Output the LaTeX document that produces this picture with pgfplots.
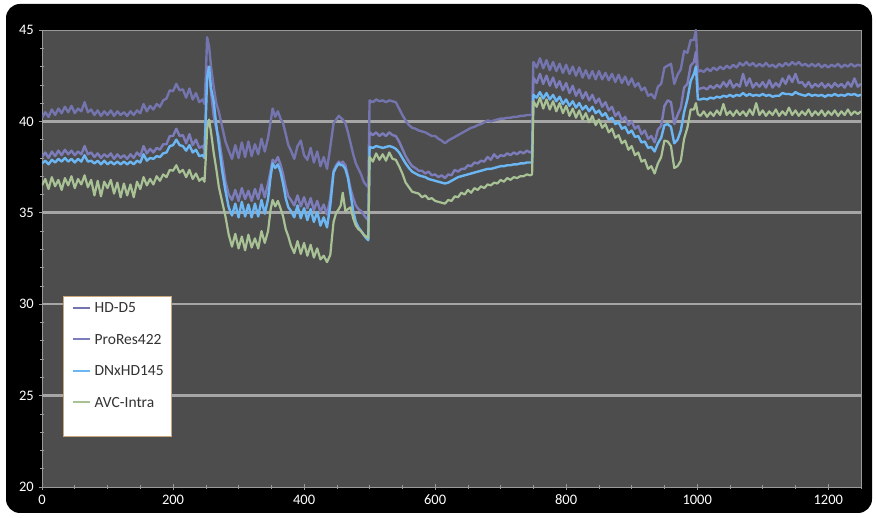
\documentclass[border=0pt]{standalone}
\usepackage{pgfplots}
\pgfplotsset{compat=1.18}
\usepackage{pgfplotstable}
\usepackage{fontspec}
\setmainfont{Carlito}
\definecolor{plotbg}{HTML}{4D4D4D}
\definecolor{gridc}{HTML}{A6A6A6}
\definecolor{axisc}{HTML}{9A9A9A}
\definecolor{cA}{HTML}{7474AE}
\definecolor{cB}{HTML}{7C7CBA}
\definecolor{cC}{HTML}{6CB6F4}
\definecolor{cD}{HTML}{A8C296}
\definecolor{legb}{HTML}{C9A67C}

\pgfplotstableread{
x A B C D
0 40.20 38.05 37.70 36.50
5 40.50 38.30 37.85 36.85
10 40.25 38.00 37.65 36.30
15 40.65 38.35 37.90 36.95
20 40.35 38.10 37.75 36.45
25 40.70 38.40 37.95 36.80
30 40.45 38.15 37.80 36.25
35 40.80 38.45 38.00 36.90
40 40.50 38.20 37.80 36.50
45 40.85 38.40 37.95 37.00
50 40.45 38.15 37.75 36.35
55 40.70 38.35 37.95 36.85
60 40.55 38.20 37.80 36.55
65 41.05 38.65 38.15 37.05
70 40.50 38.20 37.80 36.40
75 40.65 38.30 37.85 36.80
80 40.35 38.05 37.70 35.95
85 40.60 38.25 37.85 36.75
90 40.30 38.00 37.65 35.90
95 40.55 38.20 37.85 36.70
100 40.35 38.05 37.65 36.35
105 40.60 38.25 37.80 36.80
110 40.30 37.95 37.65 36.05
115 40.55 38.20 37.80 36.65
120 40.35 38.00 37.65 35.85
125 40.50 38.15 37.80 36.60
130 40.30 37.95 37.65 35.95
135 40.55 38.20 37.80 36.55
140 40.35 38.00 37.65 35.85
145 40.60 38.30 37.85 36.70
150 40.45 38.10 37.75 36.30
155 40.95 38.65 38.20 36.95
160 40.55 38.25 37.85 36.50
165 40.85 38.50 38.00 36.85
170 40.65 38.30 37.95 36.55
175 40.95 38.55 38.10 37.00
180 40.80 38.45 38.05 36.75
185 41.15 38.75 38.25 37.10
190 41.25 38.75 38.30 36.95
195 41.70 39.20 38.65 37.35
200 41.65 39.20 38.70 37.30
205 42.05 39.60 39.00 37.60
210 41.70 39.20 38.70 37.20
215 41.75 39.25 38.65 37.35
220 41.30 38.80 38.40 36.95
225 41.80 39.30 38.70 37.35
230 41.20 38.70 38.30 36.85
235 41.55 39.00 38.45 37.15
240 41.05 38.55 38.10 36.75
245 41.20 38.65 38.15 36.90
248 40.95 38.45 38.00 36.70
250 42.50 40.50 40.20 38.00
252 44.60 43.00 42.40 39.60
255 44.10 42.70 43.00 40.10
258 43.00 41.60 41.80 39.40
262 41.90 40.30 41.10 38.30
266 41.00 39.60 39.80 37.40
270 40.50 39.10 38.70 36.40
275 39.70 37.90 37.30 35.60
280 38.90 36.70 36.20 34.80
285 38.40 36.00 35.30 33.80
290 37.95 35.70 34.85 33.15
295 38.70 36.25 35.50 33.85
300 38.00 35.65 34.75 33.05
305 38.85 36.35 35.60 33.70
310 38.05 35.75 34.80 32.95
315 38.90 36.20 35.45 33.80
320 38.10 35.65 34.75 33.10
325 38.75 36.30 35.50 33.60
330 38.20 35.75 34.80 33.05
335 39.05 36.55 35.70 34.00
340 38.35 35.85 34.95 33.35
345 39.10 36.60 35.75 34.00
349 40.00 37.30 37.00 35.20
352 40.70 37.90 37.70 35.70
356 40.25 37.75 37.45 35.35
360 40.55 38.05 37.65 35.65
364 40.15 37.65 37.25 35.25
368 39.90 37.10 36.60 34.80
372 39.30 36.40 35.80 34.10
376 38.70 35.90 35.30 33.70
380 38.40 35.70 35.10 33.20
385 37.95 35.40 34.75 32.80
390 38.65 35.95 35.40 33.45
395 38.95 35.35 34.70 32.75
400 38.15 35.85 35.25 33.35
405 37.90 35.25 34.60 32.65
410 38.55 35.80 35.20 33.25
415 37.75 35.15 34.50 32.55
420 38.35 35.65 35.05 33.05
425 37.55 35.05 34.30 32.45
430 38.05 35.45 34.75 32.65
435 37.40 34.90 34.20 32.30
440 38.60 35.80 35.40 32.70
445 39.90 37.30 37.20 34.50
449 40.10 37.60 37.50 35.00
453 40.30 37.80 37.70 35.20
456 40.20 37.70 37.60 35.40
459 40.10 37.80 37.60 36.10
463 39.90 37.60 37.40 35.10
467 39.40 37.00 36.90 35.20
471 38.80 36.30 36.00 35.30
475 38.20 35.80 35.10 34.70
479 37.70 35.40 34.50 34.30
483 37.40 35.20 34.20 34.10
487 37.10 35.10 34.00 34.00
491 36.70 34.90 33.80 33.80
495 36.50 34.70 33.60 33.70
498 36.40 34.60 33.50 33.60
500 41.15 39.40 38.60 38.05
505 41.05 39.25 38.55 37.80
510 41.20 39.40 38.65 38.25
515 41.10 39.20 38.60 37.90
520 41.15 39.35 38.55 38.20
525 41.05 39.20 38.60 37.85
530 41.15 39.40 38.65 38.30
535 41.10 39.25 38.60 37.95
540 41.05 39.20 38.50 37.90
545 40.70 38.90 38.30 37.55
550 40.35 38.50 38.00 37.15
555 40.05 38.10 37.70 36.65
560 39.80 37.80 37.45 36.40
565 39.65 37.55 37.25 36.15
570 39.60 37.45 37.15 36.10
575 39.50 37.30 37.05 36.05
580 39.45 37.30 37.00 35.85
585 39.40 37.15 36.95 35.95
590 39.30 37.25 36.85 35.75
595 39.20 37.05 36.80 35.80
600 39.20 37.10 36.75 35.65
605 39.05 36.95 36.70 35.60
610 38.95 37.05 36.65 35.55
615 38.80 36.90 36.60 35.50
620 38.95 37.10 36.65 35.70
625 39.05 37.05 36.75 35.65
630 39.15 37.35 36.85 35.90
635 39.25 37.25 36.95 35.85
640 39.35 37.40 37.00 36.10
645 39.45 37.40 37.05 36.00
650 39.55 37.60 37.10 36.25
655 39.65 37.55 37.15 36.10
660 39.70 37.75 37.20 36.35
665 39.80 37.70 37.25 36.25
670 39.85 37.85 37.30 36.45
675 39.95 37.80 37.35 36.35
680 40.05 38.05 37.40 36.55
685 40.00 37.90 37.40 36.50
690 40.05 38.20 37.45 36.65
695 40.10 38.00 37.50 36.60
700 40.15 38.15 37.55 36.80
705 40.15 38.10 37.55 36.70
710 40.20 38.25 37.60 36.90
715 40.20 38.15 37.60 36.80
720 40.25 38.30 37.65 36.95
725 40.25 38.20 37.65 36.90
730 40.30 38.35 37.70 37.00
735 40.30 38.25 37.70 37.00
740 40.35 38.40 37.75 37.10
745 40.35 38.30 37.75 37.05
748 40.35 38.35 37.75 37.10
750 43.25 42.40 41.45 41.10
755 42.95 42.10 41.30 40.80
760 43.45 42.60 41.60 41.30
765 42.90 42.05 41.25 40.70
770 43.35 42.50 41.55 41.20
775 42.80 41.95 41.20 40.65
780 43.25 42.40 41.45 41.10
785 42.75 41.85 41.10 40.55
790 43.15 42.20 41.35 41.00
795 42.65 41.70 40.95 40.45
800 43.10 42.10 41.20 40.85
805 42.60 41.55 40.85 40.30
810 43.00 41.95 41.10 40.70
815 42.50 41.40 40.75 40.20
820 42.95 41.75 41.00 40.60
825 42.40 41.25 40.65 40.10
830 42.80 41.60 40.85 40.45
835 42.35 41.15 40.55 39.95
840 42.75 41.45 40.80 40.30
845 42.30 41.00 40.45 39.80
850 42.75 41.25 40.60 40.10
855 42.30 40.80 40.30 39.65
860 42.65 41.05 40.45 39.85
865 42.25 40.60 40.10 39.40
870 42.60 40.80 40.20 39.60
875 42.15 40.30 39.85 39.10
880 42.55 40.50 39.95 39.25
885 42.10 40.05 39.60 38.80
890 42.45 40.25 39.70 38.95
895 42.00 39.80 39.35 38.45
900 42.35 40.00 39.50 38.65
905 41.90 39.60 39.15 38.15
910 42.10 39.75 39.20 38.30
915 41.70 39.30 38.85 37.80
920 41.85 39.50 38.90 37.90
925 41.40 39.05 38.55 37.40
930 41.50 39.20 38.60 37.55
935 41.25 38.85 38.35 37.15
940 41.90 39.55 38.80 37.70
945 42.05 39.75 39.10 38.05
950 42.95 40.85 39.80 38.95
955 43.05 41.15 39.85 38.90
960 43.15 41.05 39.70 38.65
965 42.05 39.85 38.80 37.45
970 42.55 40.35 39.00 37.55
975 42.85 40.75 39.50 37.85
980 43.85 41.85 40.50 39.05
985 43.75 42.05 41.20 39.65
990 44.45 43.05 42.20 40.65
995 44.45 43.25 42.60 40.65
998 45.00 43.80 43.00 41.00
1001 42.70 41.75 41.20 40.40
1005 42.80 41.80 41.20 40.30
1010 42.70 41.85 41.25 40.55
1015 42.90 41.75 41.20 40.25
1020 42.75 41.95 41.30 40.50
1025 42.95 41.80 41.25 40.30
1030 42.80 42.00 41.35 40.60
1035 43.00 41.85 41.30 40.35
1040 42.85 42.15 41.40 40.95
1045 43.05 41.90 41.35 40.35
1050 42.90 42.25 41.45 40.55
1055 43.10 41.85 41.35 40.30
1060 42.95 42.05 41.45 40.60
1065 43.20 41.90 41.40 40.35
1070 43.05 42.60 41.55 40.55
1075 43.25 41.95 41.40 40.30
1080 43.05 42.35 41.50 40.65
1085 43.20 41.85 41.40 40.35
1090 43.00 42.10 41.45 41.00
1095 43.15 41.90 41.40 40.35
1100 43.00 42.15 41.50 40.60
1105 43.20 41.85 41.40 40.30
1110 43.00 42.25 41.45 40.55
1115 43.10 41.85 41.35 40.35
1120 42.95 42.10 41.40 40.65
1125 43.15 41.90 41.40 40.30
1130 43.00 42.35 41.55 40.55
1135 43.20 42.05 41.50 40.35
1140 43.05 42.50 41.50 40.75
1145 43.25 42.15 41.45 40.35
1150 43.10 42.60 41.60 40.60
1155 43.25 42.10 41.50 40.30
1160 43.05 42.15 41.45 40.55
1165 43.15 41.90 41.40 40.35
1170 43.00 42.15 41.50 40.65
1175 43.15 41.85 41.40 40.30
1180 43.00 42.05 41.45 40.55
1185 43.15 41.90 41.40 40.35
1190 42.95 42.10 41.45 40.60
1195 43.10 41.85 41.35 40.30
1200 42.95 42.05 41.45 40.55
1205 43.10 41.85 41.40 40.35
1210 43.00 42.10 41.50 40.60
1215 43.15 41.90 41.40 40.30
1220 42.95 42.05 41.45 40.55
1225 43.10 41.85 41.40 40.35
1230 43.00 42.15 41.50 40.65
1235 43.15 41.90 41.45 40.35
1240 43.00 42.35 41.50 40.55
1245 43.10 41.90 41.40 40.40
1250 43.05 42.05 41.45 40.55
}\data

\begin{document}
\begin{tikzpicture}[x=1pt,y=1pt]
\useasboundingbox (0,0) rectangle (876,518);
\fill[white] (0,0) rectangle (876,518);
\fill[black, rounded corners=14pt] (6,5) rectangle (872,514);
\begin{axis}[
  at={(42pt,31pt)}, anchor=south west,
  scale only axis, width=819pt, height=457pt,
  xmin=0, xmax=1250, ymin=20, ymax=45,
  axis background/.style={fill=plotbg},
  axis line style={draw=axisc, line width=0.8pt},
  xtick={0,200,...,1200}, minor xtick={0,50,...,1250},
  ytick={20,25,...,45}, minor ytick={20,21,...,45},
  xtick pos=bottom, ytick pos=left,
  tick align=center, major tick length=6pt, minor tick length=4pt,
  tick style={draw=axisc, line width=0.6pt},
  extra y ticks={25,30,35,40}, extra y tick labels={},
  extra y tick style={grid=major, major tick length=0pt},
  major grid style={draw=gridc, line width=2.6pt},
  /pgf/number format/assume math mode=true,
  /pgf/number format/1000 sep={},
  scaled ticks=false,
  ticklabel style={font=\fontsize{14.5}{16}\selectfont, text=white},
  yticklabel style={inner sep=0pt, xshift=-5pt},
  xticklabel style={inner sep=0pt, yshift=-4.5pt},
  every axis plot/.append style={line join=round},
  legend cell align=left,
  legend image code/.code={\draw[#1, line width=2pt] (0pt,0.5pt) -- (17pt,0.5pt);},
  legend style={at={(rel axis cs:0.0256,0.4179)}, anchor=north west,
    fill=white, draw=legb, line width=1.4pt,
    font=\fontsize{15.5}{17}\selectfont, text=black!80,
    inner xsep=8pt, inner ysep=6pt, row sep=20pt, column sep=4pt,
    nodes={inner sep=0pt}},
]
\addplot[cA, line width=2.4pt] table[x=x,y=A]{\data};
\addlegendentry{HD-D5}
\addplot[cB, line width=2.4pt] table[x=x,y=B]{\data};
\addlegendentry{ProRes422}
\addplot[cC, line width=2.4pt] table[x=x,y=C]{\data};
\addlegendentry{DNxHD145}
\addplot[cD, line width=2.2pt] table[x=x,y=D]{\data};
\addlegendentry{AVC-Intra}
\addlegendimage{empty legend}
\addlegendentry{}
\end{axis}
\end{tikzpicture}
\end{document}
